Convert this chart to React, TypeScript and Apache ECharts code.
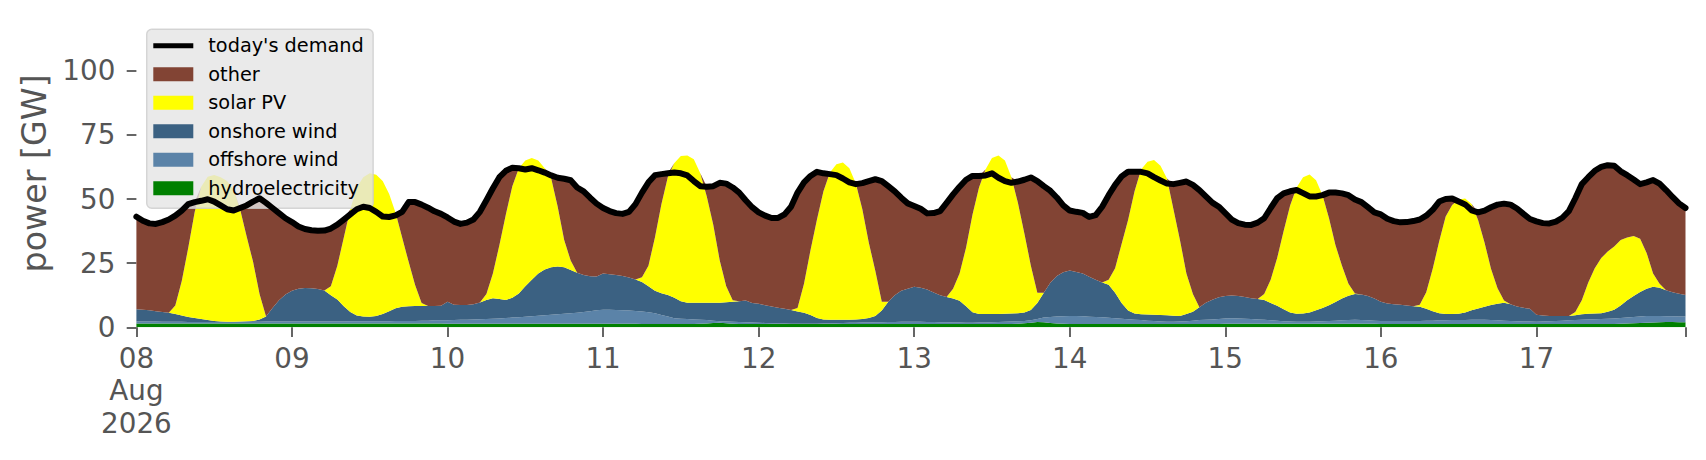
import React, { useEffect, useRef } from "react";
import * as echarts from "echarts";

// Hourly values from 08 Aug 2026 00:00 to 17 Aug 2026 23:00 (GW)
const demand = [
  43.1, 41.5, 40.5, 40.3, 41, 42, 43.5, 45.5, 48, 48.8, 49.3, 49.9, 49, 47.5, 46, 45.5, 46.5, 47.5, 49, 50.3, 48.5, 46.5, 44.5, 42.5,
  41, 39.3, 38.3, 37.8, 37.6, 37.7, 38.5, 40, 42, 44, 46, 47, 46.5, 45, 43.2, 43, 43.6, 45, 48.8, 48.8, 47.8, 46.6, 45.2, 44.2,
  42.8, 41.2, 40.3, 40.8, 42, 45, 49.5, 54.2, 58.5, 61, 62.2, 62, 61.5, 62, 61.2, 60.3, 59.2, 58.3, 57.9, 57.3, 54.5, 53, 50.5, 48.2,
  46.5, 45.3, 44.5, 44.2, 45, 48, 52.5, 56.5, 59.3, 59.7, 60, 60.3, 60, 59.2, 57, 55, 54.8, 55, 56.3, 56, 54.5, 52.5, 49.5, 46.8,
  44.8, 43.5, 42.6, 42.6, 44, 47, 52.5, 56.5, 59, 60.6, 60, 59.7, 59.3, 58, 56.5, 55.8, 56.2, 57, 57.7, 57, 55, 53, 50.5, 48.3,
  47.3, 46.2, 44.4, 44.5, 45.3, 48.5, 51.8, 54.8, 57.5, 59, 59, 59.2, 60, 58.3, 57, 56.3, 56.8, 57.5, 58.4, 57, 55, 53.2, 50.6, 47.5,
  45.5, 45, 44.6, 43, 43.7, 47, 51.5, 55.5, 58.8, 60.6, 60.6, 60.6, 60, 58.5, 57.2, 56, 55.8, 56.3, 56.8, 55.5, 53.5, 51, 48.6, 47,
  44.5, 42, 40.6, 40, 39.9, 40.8, 42.5, 46.5, 50.3, 52.2, 53, 53.5, 52.3, 51, 51, 51.5, 52.5, 52.5, 52.2, 51.5, 49.8, 48.8, 46.8, 44.8,
  44, 42.3, 41.4, 40.9, 41, 41.4, 42, 43.5, 45.8, 49, 50, 50.2, 49, 47.9, 45.6, 44.8, 45.5, 46.8, 47.8, 48.2, 47.8, 46.3, 44.2, 42.2,
  41.3, 40.6, 40.5, 41.2, 42.7, 45.3, 50.3, 55.8, 58.5, 61, 62.5, 63.2, 63, 60.8, 59.3, 57.6, 55.8, 56.5, 57.4, 56, 53.5, 50.8, 48.3, 46.5,
];

const solarPV = [
  0, 0, 0, 0, 0, 0, 3.3, 13.4, 27, 41.4, 51.6, 55.9, 56.9, 56.2, 54.8, 51.3, 43.7, 33.1, 23, 10, 0, 0, 0, 0,
  0, 0, 0, 0, 0, 0, 3.5, 13.2, 26.8, 40, 49.9, 54.3, 55.9, 55.1, 51.8, 45.7, 37.1, 27, 17.3, 8.2, 1.2, 0, 0, 0,
  0, 0, 0, 0, 0, 0, 2.4, 9.7, 21, 33.4, 43.5, 48.8, 49, 47.5, 44, 39.5, 34.6, 23.3, 10.6, 3.7, 0, 0, 0, 0,
  0, 0, 0, 0, 0, 0, 1.8, 8, 20.8, 34.7, 46.1, 52.5, 56.6, 57.4, 55.9, 50.4, 41.4, 30.4, 16.4, 6.2, 0.5, 0, 0, 0,
  0, 0, 0, 0, 0, 0, 1.3, 11.3, 25.2, 38.4, 50, 57.4, 60.6, 61.3, 59.1, 53, 42.8, 29.4, 17.6, 3.5, 0, 0, 0, 0,
  0, 0, 0, 0, 0, 0, 3.8, 10.7, 22.8, 38.1, 49.3, 56.3, 60.8, 61.8, 59.7, 53.1, 43, 30.8, 17.3, 4, 0, 0, 0, 0,
  0, 0, 0, 0, 0, 0, 1.9, 9.5, 23, 35.3, 47.6, 56.4, 59.5, 60.3, 58.2, 53.3, 41.5, 29.6, 15.8, 6.9, 0, 0, 0, 0,
  0, 0, 0, 0, 0, 0, 2.4, 9, 18.6, 30.5, 41.7, 49.2, 53.1, 53.8, 50.7, 44, 33.9, 22.1, 12.8, 4.7, 0.2, 0, 0, 0,
  0, 0, 0, 0, 0, 0, 0.8, 6.5, 16.5, 28, 38, 42.5, 44.5, 44.4, 41.5, 34.5, 25, 14, 6, 0.8, 0, 0, 0, 0,
  0, 0, 0, 0, 0, 0, 1.3, 5.4, 12.2, 17.6, 21.5, 23.4, 24.7, 25.5, 24.5, 23.4, 20.7, 14, 5.2, 1.6, 0, 0, 0, 0,
];

const onshoreWind = [
  4.7, 4.5, 4.3, 4.0, 3.8, 3.5, 3.0, 2.4, 1.9, 1.5, 1.1, 0.7, 0.4, 0.2, 0.1, 0.1, 0.1, 0.2, 0.3, 0.8, 1.9, 5.2, 8.2, 10.5,
  11.9, 12.7, 13.0, 12.9, 12.6, 12.0, 10.2, 8.5, 5.9, 3.6, 2.2, 1.8, 1.7, 2.0, 2.8, 3.9, 4.9, 5.5, 5.7, 5.8, 5.7, 5.7, 5.6, 5.7,
  7.3, 6.0, 5.8, 5.8, 6.0, 6.6, 7.4, 8.0, 7.6, 7.0, 7.7, 9.3, 11.9, 14.2, 16.5, 17.8, 18.5, 18.6, 18.1, 16.8, 15.6, 14.4, 13.6, 13.2,
  14.2, 13.9, 13.7, 13.4, 12.9, 12.2, 11.5, 10.1, 8.7, 8.5, 8.4, 8.0, 6.9, 6.4, 6.6, 6.7, 6.8, 7.0, 7.2, 7.5, 7.8, 8.1, 8.4, 7.6,
  7.4, 6.9, 6.5, 6.1, 5.7, 5.3, 4.8, 4.3, 3.4, 2.2, 1.5, 1.4, 1.3, 1.2, 1.1, 1.2, 1.3, 1.7, 2.4, 4.5, 7.9, 10.4, 12.0, 12.8,
  13.6, 13.2, 12.6, 11.5, 10.5, 9.8, 9.3, 8.4, 6.4, 4.1, 3.3, 3.3, 3.2, 3.1, 3.1, 3.1, 3.1, 3.3, 4.0, 6.3, 9.7, 13.4, 15.8, 17.2,
  17.7, 17.2, 16.7, 15.6, 14.5, 13.6, 12.9, 10.0, 6.2, 3.4, 2.5, 2.3, 2.4, 2.4, 2.5, 2.5, 2.3, 2.1, 2.8, 3.5, 5.0, 6.7, 7.7, 8.5,
  8.8, 8.9, 8.8, 8.5, 8.1, 8.0, 7.7, 6.8, 5.8, 4.6, 3.5, 3.1, 3.2, 3.6, 4.3, 5.1, 6.1, 7.3, 8.5, 9.5, 10.1, 10.0, 9.5, 8.6,
  7.5, 6.8, 6.5, 6.3, 6.0, 5.7, 5.5, 4.6, 3.7, 2.8, 2.5, 2.4, 2.5, 3.0, 3.7, 4.4, 5.1, 5.9, 6.5, 7.0, 6.5, 5.7, 5.3, 4.9,
  2.7, 2.3, 2.0, 1.9, 1.8, 1.7, 1.9, 2.2, 2.3, 2.3, 2.3, 2.8, 3.4, 4.9, 6.7, 8.2, 9.6, 10.6, 11.4, 11.0, 10.1, 9.4, 8.9, 8.4,
];

const offshoreWind = [
  0.8, 0.8, 0.8, 0.8, 0.7, 0.7, 0.7, 0.7, 0.6, 0.6, 0.6, 0.6, 0.6, 0.6, 0.6, 0.6, 0.7, 0.7, 0.7, 0.7, 0.8, 0.8, 0.8, 0.8,
  0.8, 0.8, 0.8, 0.8, 0.8, 0.8, 0.8, 0.8, 0.8, 0.9, 0.9, 0.9, 0.9, 0.9, 0.9, 0.9, 1.0, 1.0, 1.0, 1.0, 1.1, 1.1, 1.2, 1.2,
  1.3, 1.4, 1.5, 1.5, 1.6, 1.7, 1.8, 1.9, 2.0, 2.2, 2.4, 2.5, 2.7, 2.9, 3.1, 3.3, 3.5, 3.7, 3.9, 4.1, 4.3, 4.6, 4.9, 5.2,
  5.4, 5.4, 5.3, 5.2, 5.1, 5.0, 4.9, 4.6, 4.2, 3.5, 2.9, 2.2, 2.0, 1.9, 1.7, 1.5, 1.3, 0.9, 0.6, 0.7, 0.8, 0.8, 0.7, 0.6,
  0.5, 0.4, 0.3, 0.2, 0.2, 0.1, 0.1, 0.1, 0.1, 0.1, 0.2, 0.2, 0.3, 0.4, 0.5, 0.5, 0.6, 0.6, 0.7, 0.7, 0.8, 0.8, 0.9, 0.9,
  0.9, 0.9, 0.8, 0.8, 0.7, 0.7, 0.6, 0.6, 0.5, 0.5, 0.6, 0.6, 0.7, 0.8, 0.9, 1.0, 1.0, 0.9, 0.9, 1.1, 1.8, 2.3, 2.7, 2.9,
  3.1, 3.1, 3.0, 2.8, 2.7, 2.6, 2.4, 2.2, 2.0, 1.8, 1.6, 1.5, 1.3, 1.2, 1.0, 0.9, 0.9, 1.0, 1.1, 1.3, 1.5, 1.6, 1.7, 1.9,
  2.0, 2.1, 2.0, 1.9, 1.8, 1.6, 1.5, 1.3, 1.2, 1.0, 0.9, 0.8, 0.8, 0.8, 0.9, 1.0, 1.1, 1.2, 1.3, 1.4, 1.5, 1.4, 1.3, 1.2,
  1.2, 1.2, 1.2, 1.2, 1.2, 1.2, 1.2, 1.3, 1.3, 1.4, 1.4, 1.5, 1.5, 1.5, 1.6, 1.6, 1.6, 1.5, 1.4, 1.3, 1.2, 1.1, 1.0, 1.0,
  0.9, 1.0, 1.1, 1.2, 1.3, 1.4, 1.5, 1.6, 1.7, 1.8, 1.9, 2.0, 2.1, 2.2, 2.3, 2.4, 2.5, 2.6, 2.5, 2.4, 2.2, 2.2, 2.2, 2.2,
];

const hydroelectricity = [
  1.5, 1.5, 1.5, 1.5, 1.5, 1.5, 1.5, 1.5, 1.5, 1.5, 1.5, 1.5, 1.5, 1.5, 1.5, 1.5, 1.5, 1.5, 1.5, 1.5, 1.5, 1.5, 1.5, 1.5,
  1.5, 1.5, 1.5, 1.5, 1.5, 1.5, 1.5, 1.5, 1.5, 1.5, 1.5, 1.5, 1.5, 1.5, 1.5, 1.5, 1.5, 1.5, 1.5, 1.5, 1.5, 1.5, 1.5, 1.5,
  1.4, 1.4, 1.4, 1.4, 1.4, 1.4, 1.4, 1.4, 1.4, 1.4, 1.4, 1.4, 1.4, 1.4, 1.4, 1.4, 1.4, 1.4, 1.4, 1.4, 1.4, 1.4, 1.4, 1.4,
  1.4, 1.4, 1.4, 1.4, 1.4, 1.4, 1.3, 1.3, 1.3, 1.3, 1.3, 1.3, 1.3, 1.3, 1.3, 1.4, 1.5, 1.7, 1.8, 1.6, 1.4, 1.3, 1.3, 1.3,
  1.3, 1.3, 1.3, 1.3, 1.3, 1.3, 1.3, 1.3, 1.3, 1.3, 1.3, 1.3, 1.3, 1.3, 1.3, 1.3, 1.3, 1.3, 1.3, 1.3, 1.3, 1.3, 1.3, 1.3,
  1.3, 1.3, 1.3, 1.3, 1.3, 1.3, 1.3, 1.3, 1.3, 1.3, 1.3, 1.3, 1.3, 1.3, 1.3, 1.3, 1.4, 1.6, 1.8, 2.1, 2.0, 1.7, 1.5, 1.4,
  1.3, 1.3, 1.3, 1.3, 1.3, 1.3, 1.3, 1.3, 1.3, 1.3, 1.3, 1.3, 1.3, 1.3, 1.3, 1.3, 1.3, 1.3, 1.3, 1.3, 1.3, 1.3, 1.3, 1.3,
  1.4, 1.4, 1.4, 1.4, 1.4, 1.4, 1.4, 1.4, 1.4, 1.4, 1.4, 1.4, 1.4, 1.4, 1.4, 1.4, 1.4, 1.4, 1.4, 1.4, 1.4, 1.4, 1.4, 1.4,
  1.3, 1.3, 1.3, 1.3, 1.3, 1.3, 1.3, 1.3, 1.3, 1.3, 1.3, 1.3, 1.3, 1.3, 1.3, 1.3, 1.3, 1.3, 1.3, 1.3, 1.3, 1.3, 1.3, 1.3,
  1.3, 1.3, 1.3, 1.3, 1.3, 1.3, 1.3, 1.3, 1.3, 1.3, 1.3, 1.3, 1.3, 1.4, 1.5, 1.6, 1.7, 1.8, 1.9, 2.0, 2.1, 2.1, 2.0, 2.0,
];

// Axis ticks (x: hour index from 08 Aug 00:00)
const dayLabels = ["08\nAug\n2026", "09", "10", "11", "12", "13", "14", "15", "16", "17"];
const hoursPerDay = 24;
const lastHour = 239;
const yTicks = [0, 25, 50, 75, 100];

const COLORS = {
  demand: "#000000",
  other: "#824434",
  solar: "#ffff00",
  onshore: "#3b6182",
  offshore: "#5b83a8",
  hydro: "#008000",
};

const FONT = "DejaVu Sans";

export default function App() {
  const ref = useRef<HTMLDivElement>(null);

  useEffect(() => {
    if (!ref.current) return;
    const chart = echarts.init(ref.current, null, { renderer: "svg" });

    const hourCategories = demand.map((_, i) => String(i));
    const other = demand.map((d, i) => {
      const ren = hydroelectricity[i] + offshoreWind[i] + onshoreWind[i] + solarPV[i];
      return Math.max(0, Math.round((d - ren) * 100) / 100);
    });

    const area = (name: string, data: number[], color: string) => ({
      name,
      type: "line",
      stack: "total",
      data,
      symbol: "none",
      showSymbol: false,
      color,
      lineStyle: { width: 0 },
      areaStyle: { color, opacity: 1 },
      z: 2,
      silent: true,
    });

    const lineIcon = "path://M0 0L0.01 0L0 0.01ZM0 4.5H40V9.5H0ZM0 14L0.01 14L0 13.99Z";

    chart.setOption({
      animation: false,
      backgroundColor: "#ffffff",
      grid: { left: 136.4, right: 20.5, top: 19.4, bottom: 132.7, containLabel: false, outerBoundsMode: "none" },
      legend: {
        orient: "vertical",
        left: 146.7,
        top: 29.3,
        data: [
          { name: "today's demand", icon: lineIcon, itemStyle: { color: COLORS.demand, borderWidth: 0 } },
          { name: "other", icon: "rect", itemStyle: { color: COLORS.other, borderWidth: 0 } },
          { name: "solar PV", icon: "rect", itemStyle: { color: COLORS.solar, borderWidth: 0 } },
          { name: "onshore wind", icon: "rect", itemStyle: { color: COLORS.onshore, borderWidth: 0 } },
          { name: "offshore wind", icon: "rect", itemStyle: { color: COLORS.offshore, borderWidth: 0 } },
          { name: "hydroelectricity", icon: "rect", itemStyle: { color: COLORS.hydro, borderWidth: 0 } },
        ],
        itemWidth: 40,
        itemHeight: 14,
        itemGap: 8.5,
        padding: [6.4, 9.4, 10, 6.6],
        backgroundColor: "rgba(229,229,229,0.8)",
        borderColor: "rgba(204,204,204,0.8)",
        borderWidth: 1.4,
        borderRadius: 5,
        selectedMode: false,
        itemStyle: { borderWidth: 0 },
        textStyle: { fontFamily: FONT, fontSize: 19.3, color: "#000000", lineHeight: 20, padding: [0, 0, 0, 10] },
      },
      xAxis: {
        type: "category",
        data: hourCategories,
        boundaryGap: false,
        axisLine: { show: false },
        splitLine: { show: false },
        axisTick: {
          show: true,
          length: 9.7,
          interval: (i: number) => i % hoursPerDay === 0 || i === lastHour,
          lineStyle: { color: "#555555", width: 1.8 },
        },
        axisLabel: {
          interval: (i: number) => i % hoursPerDay === 0,
          formatter: (_v: string, i: number) => dayLabels[Math.round(i / hoursPerDay)] ?? "",
          margin: 14.7,
          lineHeight: 32.5,
          color: "#555555",
          fontSize: 27.8,
          fontFamily: FONT,
          align: "center",
        },
      },
      yAxis: {
        type: "value",
        min: 0,
        max: 120,
        interval: 25,
        axisLine: { show: false },
        splitLine: { show: false },
        axisTick: { show: true, length: 9.7, customValues: yTicks, lineStyle: { color: "#555555", width: 1.8 } },
        axisLabel: { customValues: yTicks, margin: 21, color: "#555555", fontSize: 27.8, fontFamily: FONT },
        name: "power [GW]",
        nameLocation: "middle",
        nameGap: 85,
        nameTextStyle: { color: "#555555", fontSize: 33.3, fontFamily: FONT },
      },
      series: [
        area("hydroelectricity", hydroelectricity, COLORS.hydro),
        area("offshore wind", offshoreWind, COLORS.offshore),
        area("onshore wind", onshoreWind, COLORS.onshore),
        area("solar PV", solarPV, COLORS.solar),
        area("other", other, COLORS.other),
        {
          name: "today's demand",
          type: "line",
          data: demand,
          symbol: "none",
          showSymbol: false,
          color: COLORS.demand,
          lineStyle: { color: COLORS.demand, width: 6, join: "round", cap: "round" },
          z: 5,
          silent: true,
        },
      ],
    });

    return () => chart.dispose();
  }, []);

  return (
    <div
      ref={ref}
      style={{ position: "absolute", left: 0, top: 0, width: 1706, height: 460 }}
    />
  );
}
